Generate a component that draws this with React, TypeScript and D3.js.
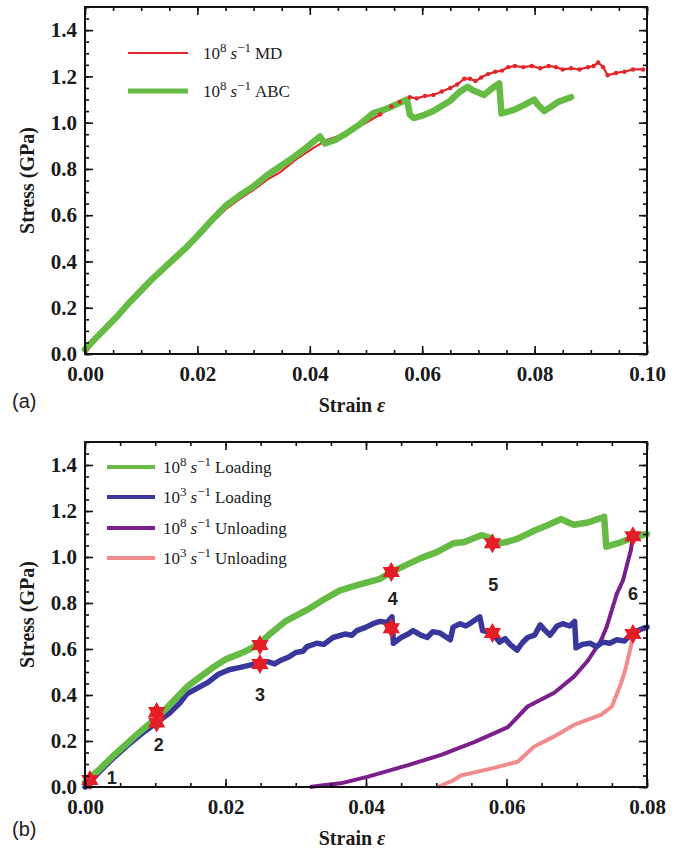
import React, { useEffect, useRef } from 'react';
import * as d3 from 'd3';

type Pt = [number, number];

// (a) 10^8 s^-1, MD vs ABC  [strain, stress GPa]
const mdA: Pt[] = [
  [0, 0], [0.002, 0.065], [0.004, 0.115], [0.006, 0.165], [0.008, 0.22], [0.01, 0.27],
  [0.012, 0.32], [0.014, 0.365], [0.016, 0.41], [0.018, 0.455], [0.02, 0.5], [0.0225, 0.565],
  [0.025, 0.625], [0.0275, 0.67], [0.03, 0.71], [0.0325, 0.755], [0.0347, 0.785], [0.0375, 0.84],
  [0.0406, 0.89], [0.043, 0.925], [0.0455, 0.945], [0.048, 0.975], [0.05, 1.0], [0.0525, 1.035],
  [0.0545, 1.07], [0.056, 1.09], [0.0578, 1.11], [0.059, 1.105], [0.0605, 1.115], [0.062, 1.12],
  [0.0635, 1.135], [0.065, 1.15], [0.0662, 1.165], [0.0675, 1.19], [0.0685, 1.19], [0.0695, 1.18],
  [0.0705, 1.195], [0.0717, 1.21], [0.073, 1.22], [0.0742, 1.225], [0.0753, 1.24], [0.0765, 1.245],
  [0.078, 1.24], [0.0795, 1.245], [0.081, 1.235], [0.0825, 1.245], [0.0838, 1.24], [0.085, 1.23],
  [0.0865, 1.235], [0.088, 1.23], [0.0895, 1.24], [0.0905, 1.245], [0.0913, 1.26], [0.0922, 1.24],
  [0.093, 1.205], [0.0945, 1.215], [0.096, 1.22], [0.0975, 1.23], [0.0993, 1.23],
];

const abcA: Pt[] = [
  [0, 0.02], [0.002, 0.07], [0.004, 0.12], [0.006, 0.17], [0.008, 0.225], [0.01, 0.275],
  [0.012, 0.325], [0.014, 0.37], [0.016, 0.415], [0.018, 0.46], [0.02, 0.51], [0.0228, 0.585],
  [0.025, 0.64], [0.0275, 0.685], [0.03, 0.725], [0.0325, 0.775], [0.0365, 0.84], [0.039, 0.885],
  [0.0418, 0.94], [0.0427, 0.91], [0.0445, 0.925], [0.0466, 0.955], [0.049, 0.995], [0.0512, 1.04],
  [0.0537, 1.06], [0.0555, 1.08], [0.0573, 1.1], [0.0578, 1.035], [0.0585, 1.02], [0.06, 1.03],
  [0.062, 1.05], [0.0633, 1.07], [0.065, 1.095], [0.0665, 1.13], [0.0681, 1.155], [0.069, 1.14],
  [0.07, 1.13], [0.071, 1.12], [0.0725, 1.15], [0.0737, 1.17], [0.0741, 1.04], [0.0763, 1.055],
  [0.078, 1.075], [0.0799, 1.1], [0.0805, 1.08], [0.0817, 1.05], [0.083, 1.07], [0.0842, 1.09],
  [0.0865, 1.11],
];

// (b) loading / unloading
const load8: Pt[] = [
  [0, 0.02], [0.002, 0.075], [0.004, 0.135], [0.006, 0.19], [0.008, 0.245], [0.0102, 0.3],
  [0.012, 0.355], [0.0145, 0.435], [0.016, 0.47], [0.018, 0.515], [0.02, 0.555], [0.0221, 0.58],
  [0.0235, 0.6], [0.0249, 0.625], [0.0265, 0.67], [0.0285, 0.72], [0.0316, 0.77], [0.034, 0.815],
  [0.0363, 0.855], [0.039, 0.88], [0.042, 0.905], [0.0436, 0.935], [0.045, 0.955], [0.0478, 0.995],
  [0.05, 1.02], [0.0525, 1.06], [0.054, 1.065], [0.0564, 1.095], [0.0575, 1.085], [0.058, 1.055],
  [0.06, 1.065], [0.0616, 1.08], [0.064, 1.115], [0.066, 1.14], [0.0678, 1.165], [0.0688, 1.15],
  [0.0696, 1.14], [0.0716, 1.15], [0.0735, 1.17], [0.0739, 1.175], [0.0742, 1.045], [0.0759, 1.06],
  [0.078, 1.085], [0.08, 1.1],
];

const load3: Pt[] = [
  [0, 0], [0.002, 0.065], [0.004, 0.125], [0.006, 0.18], [0.008, 0.23], [0.0102, 0.28],
  [0.012, 0.32], [0.0135, 0.365], [0.0145, 0.405], [0.016, 0.43], [0.0175, 0.455], [0.019, 0.49],
  [0.0205, 0.51], [0.0221, 0.52], [0.0235, 0.53], [0.0249, 0.54], [0.026, 0.545], [0.027, 0.535],
  [0.0278, 0.55], [0.029, 0.565], [0.03, 0.585], [0.031, 0.59], [0.0316, 0.61], [0.033, 0.625],
  [0.034, 0.62], [0.0353, 0.65], [0.037, 0.665], [0.038, 0.66], [0.0387, 0.68], [0.04, 0.695],
  [0.041, 0.71], [0.042, 0.72], [0.043, 0.715], [0.0437, 0.74], [0.0439, 0.625], [0.045, 0.65],
  [0.046, 0.665], [0.0467, 0.68], [0.0478, 0.66], [0.0487, 0.65], [0.0495, 0.675], [0.0505, 0.67],
  [0.052, 0.64], [0.0524, 0.695], [0.0534, 0.71], [0.0542, 0.7], [0.055, 0.715], [0.0562, 0.74],
  [0.0566, 0.68], [0.058, 0.67], [0.059, 0.63], [0.0598, 0.645], [0.0605, 0.62], [0.0615, 0.595],
  [0.0622, 0.625], [0.063, 0.65], [0.064, 0.66], [0.0648, 0.705], [0.0655, 0.68], [0.0662, 0.66],
  [0.0672, 0.7], [0.068, 0.71], [0.069, 0.7], [0.0697, 0.72], [0.0699, 0.605], [0.0708, 0.62],
  [0.0719, 0.625], [0.0728, 0.61], [0.0737, 0.63], [0.0747, 0.625], [0.0757, 0.64], [0.0768, 0.635],
  [0.0779, 0.67], [0.0795, 0.69], [0.08, 0.695],
];

const unload8: Pt[] = [
  [0.032, 0], [0.0345, 0.01], [0.0364, 0.016], [0.0403, 0.045], [0.046, 0.095], [0.0507, 0.14],
  [0.0554, 0.195], [0.0602, 0.26], [0.063, 0.35], [0.0668, 0.41], [0.0696, 0.48], [0.0716, 0.55],
  [0.0735, 0.64], [0.0743, 0.7], [0.0757, 0.84], [0.0766, 0.9], [0.0777, 1.03], [0.078, 1.09],
];

const unload3: Pt[] = [
  [0.0502, 0], [0.0525, 0.03], [0.0535, 0.05], [0.0578, 0.08], [0.0616, 0.11], [0.0639, 0.175],
  [0.0668, 0.22], [0.0696, 0.27], [0.0735, 0.315], [0.075, 0.35], [0.0763, 0.45], [0.077, 0.52],
  [0.0777, 0.61], [0.078, 0.665],
];

const stars: Pt[] = [
  [0.0007, 0.03], [0.0102, 0.326], [0.0102, 0.28], [0.0249, 0.617], [0.0249, 0.535],
  [0.0436, 0.935], [0.0436, 0.69], [0.058, 1.06], [0.058, 0.67], [0.078, 1.09], [0.078, 0.665],
];
const stageLabels = ['1', '2', '3', '4', '5', '6'];
const stageAt: Pt[] = [
  [0.0038, 0.039], [0.0105, 0.183], [0.0249, 0.4], [0.0438, 0.817], [0.0581, 0.878], [0.078, 0.839],
];

const xTicksA = [0, 0.02, 0.04, 0.06, 0.08, 0.1];
const xTicksB = [0, 0.02, 0.04, 0.06, 0.08];
const yTicks = [0, 0.2, 0.4, 0.6, 0.8, 1.0, 1.2, 1.4];

const GREEN = '#66bb44';
const RED = '#e3262b';
const BLUE = '#38389c';
const PURPLE = '#7a1f8c';
const PINK = '#f28b8b';
const SERIF = '"Liberation Serif", "Times New Roman", serif';

function hexagram(r: number) {
  const pts: Pt[] = [];
  for (let i = 0; i < 12; i++) {
    const a = -Math.PI / 2 + (i * Math.PI) / 6;
    const rr = i % 2 === 0 ? r : r * 0.58;
    pts.push([Math.cos(a) * rr, Math.sin(a) * rr]);
  }
  return 'M' + pts.map(p => p.join(',')).join('L') + 'Z';
}

function rateText(t: any, exp: string, label: string) {
  t.append('tspan').text('10');
  t.append('tspan').attr('dy', -7).attr('font-size', 13).text(exp);
  t.append('tspan').attr('dy', 7).attr('dx', 4).attr('font-style', 'italic').text('s');
  t.append('tspan').attr('dy', -7).attr('font-size', 13).text('\u22121');
  t.append('tspan').attr('dy', 7).attr('dx', 4).text(label);
}

function drawAxes(g: any, x: any, y: any, xTicks: number[], xFmt: (d: any) => string) {
  const [x0, x1] = x.range();
  const [y0, y1] = y.range();
  const minorX = d3.range(0, x.domain()[1] + 1e-9, 0.005);
  const minorY = d3.range(0, 1.5 + 1e-9, 0.05);

  const add = (axis: any, tx: string) =>
    g.append('g').attr('transform', tx).call(axis);

  add(d3.axisBottom(x).tickValues(minorX).tickSizeInner(-4).tickSizeOuter(0).tickFormat(() => ''), `translate(0,${y0})`);
  add(d3.axisTop(x).tickValues(minorX).tickSizeInner(-4).tickSizeOuter(0).tickFormat(() => ''), `translate(0,${y1})`);
  add(d3.axisLeft(y).tickValues(minorY).tickSizeInner(-4).tickSizeOuter(0).tickFormat(() => ''), `translate(${x0},0)`);
  add(d3.axisRight(y).tickValues(minorY).tickSizeInner(-4).tickSizeOuter(0).tickFormat(() => ''), `translate(${x1},0)`);

  add(d3.axisBottom(x).tickValues(xTicks).tickSizeInner(-8).tickSizeOuter(0).tickPadding(12).tickFormat(xFmt), `translate(0,${y0})`);
  add(d3.axisTop(x).tickValues(xTicks).tickSizeInner(-8).tickSizeOuter(0).tickFormat(() => ''), `translate(0,${y1})`);
  add(d3.axisLeft(y).tickValues(yTicks).tickSizeInner(-8).tickSizeOuter(0).tickPadding(8).tickFormat(d3.format('.1f')), `translate(${x0},0)`);
  add(d3.axisRight(y).tickValues(yTicks).tickSizeInner(-8).tickSizeOuter(0).tickFormat(() => ''), `translate(${x1},0)`);

  g.selectAll('.domain').remove();
  g.selectAll('.tick line').attr('stroke', '#111').attr('stroke-width', 1.6);
  g.selectAll('.tick text')
    .attr('fill', '#1a1a1a')
    .style('font-family', SERIF)
    .style('font-weight', 'bold')
    .style('font-size', '21px');

  g.append('rect')
    .attr('x', x0).attr('y', y1)
    .attr('width', x1 - x0).attr('height', y0 - y1)
    .attr('fill', 'none').attr('stroke', '#111').attr('stroke-width', 2);

  // axis titles
  g.append('text')
    .attr('transform', `translate(27,${(y0 + y1) / 2}) rotate(-90)`)
    .attr('text-anchor', 'middle').attr('dominant-baseline', 'central')
    .style('font-family', SERIF).style('font-weight', 'bold').style('font-size', '20px')
    .attr('fill', '#1a1a1a')
    .text('Stress (GPa)');
  const t = g.append('text')
    .attr('x', 352).attr('y', y0 + 58)
    .attr('text-anchor', 'middle')
    .style('font-family', SERIF).style('font-weight', 'bold').style('font-size', '20px')
    .attr('fill', '#1a1a1a');
  t.append('tspan').text('Strain ');
  t.append('tspan').attr('font-style', 'italic').text('\u03b5');
}

export default function App() {
  const svgRef = useRef<SVGSVGElement>(null);

  useEffect(() => {
    const svg = d3.select(svgRef.current);
    svg.selectAll('*').remove();

    const left = 85, right = 647;

    // ---------- panel (a)
    const xa = d3.scaleLinear().domain([0, 0.1]).range([left, right]);
    const ya = d3.scaleLinear().domain([0, 1.5]).range([354, 7]);
    const ga = svg.append('g');
    const lineA = d3.line<Pt>().x(d => xa(d[0])).y(d => ya(d[1]));

    ga.append('path').datum(mdA).attr('d', lineA)
      .attr('fill', 'none').attr('stroke', RED).attr('stroke-width', 2.2);
    ga.append('path').datum(abcA).attr('d', lineA)
      .attr('fill', 'none').attr('stroke', GREEN).attr('stroke-width', 6.5)
      .attr('stroke-linejoin', 'round').attr('stroke-linecap', 'round');
    ga.selectAll('.mdDot').data(mdA.filter(d => d[0] > 0.052)).join('circle')
      .attr('cx', d => xa(d[0])).attr('cy', d => ya(d[1])).attr('r', 2.2).attr('fill', RED);

    drawAxes(ga, xa, ya, xTicksA, d3.format('.2f'));

    // legend (a)
    const legA = [
      { c: RED, w: 2, y: 53, label: 'MD' },
      { c: GREEN, w: 5, y: 91, label: 'ABC' },
    ];
    legA.forEach(l => {
      ga.append('line').attr('x1', 128).attr('x2', 188).attr('y1', l.y).attr('y2', l.y)
        .attr('stroke', l.c).attr('stroke-width', l.w);
      const t = ga.append('text').attr('x', 203).attr('y', l.y + 6)
        .style('font-family', SERIF).style('font-size', '17px').attr('fill', '#222');
      rateText(t, '8', l.label);
    });

    ga.append('text').attr('x', 12).attr('y', 408)
      .style('font-family', '"Liberation Sans", Arial, sans-serif').style('font-size', '20px')
      .attr('fill', '#222').text('(a)');

    // ---------- panel (b)
    const xb = d3.scaleLinear().domain([0, 0.08]).range([left, right]);
    const yb = d3.scaleLinear().domain([0, 1.5]).range([787, 442]);
    const gb = svg.append('g');
    const lineB = d3.line<Pt>().x(d => xb(d[0])).y(d => yb(d[1]));

    gb.append('path').datum(unload3).attr('d', lineB)
      .attr('fill', 'none').attr('stroke', PINK).attr('stroke-width', 4).attr('stroke-linejoin', 'round');
    gb.append('path').datum(unload8).attr('d', lineB)
      .attr('fill', 'none').attr('stroke', PURPLE).attr('stroke-width', 4).attr('stroke-linejoin', 'round');
    gb.selectAll('.pDot').data(unload8.filter(d => d[0] > 0.07)).join('circle')
      .attr('cx', d => xb(d[0])).attr('cy', d => yb(d[1])).attr('r', 2).attr('fill', PURPLE);
    gb.append('path').datum(load3).attr('d', lineB)
      .attr('fill', 'none').attr('stroke', BLUE).attr('stroke-width', 5.5)
      .attr('stroke-linejoin', 'round').attr('stroke-linecap', 'round');
    gb.append('path').datum(load8).attr('d', lineB)
      .attr('fill', 'none').attr('stroke', GREEN).attr('stroke-width', 6.5)
      .attr('stroke-linejoin', 'round').attr('stroke-linecap', 'round');

    gb.selectAll('.star').data(stars).join('path')
      .attr('d', hexagram(10))
      .attr('transform', d => `translate(${xb(d[0])},${yb(d[1])})`)
      .attr('fill', '#e41e26');

    gb.selectAll('.stage').data(stageAt).join('text')
      .attr('x', d => xb(d[0])).attr('y', d => yb(d[1]))
      .attr('text-anchor', 'middle').attr('dominant-baseline', 'central')
      .style('font-family', '"Liberation Sans", Arial, sans-serif')
      .style('font-weight', 'bold').style('font-size', '18px')
      .attr('fill', '#222')
      .text((d, i) => stageLabels[i]);

    drawAxes(gb, xb, yb, xTicksB, d3.format('.2f'));

    const legB = [
      { c: GREEN, e: '8', label: 'Loading', y: 467 },
      { c: BLUE, e: '3', label: 'Loading', y: 497 },
      { c: PURPLE, e: '8', label: 'Unloading', y: 528 },
      { c: PINK, e: '3', label: 'Unloading', y: 558 },
    ];
    legB.forEach(l => {
      gb.append('line').attr('x1', 107).attr('x2', 155).attr('y1', l.y).attr('y2', l.y)
        .attr('stroke', l.c).attr('stroke-width', 4);
      const t = gb.append('text').attr('x', 163).attr('y', l.y + 6)
        .style('font-family', SERIF).style('font-size', '17px').attr('fill', '#222');
      rateText(t, l.e, l.label);
    });

    gb.append('text').attr('x', 12).attr('y', 836)
      .style('font-family', '"Liberation Sans", Arial, sans-serif').style('font-size', '20px')
      .attr('fill', '#222').text('(b)');
  }, []);

  return (
    <svg
      ref={svgRef}
      width={682}
      height={854}
      style={{ position: 'absolute', left: 0, top: 0, background: '#fff' }}
    />
  );
}
